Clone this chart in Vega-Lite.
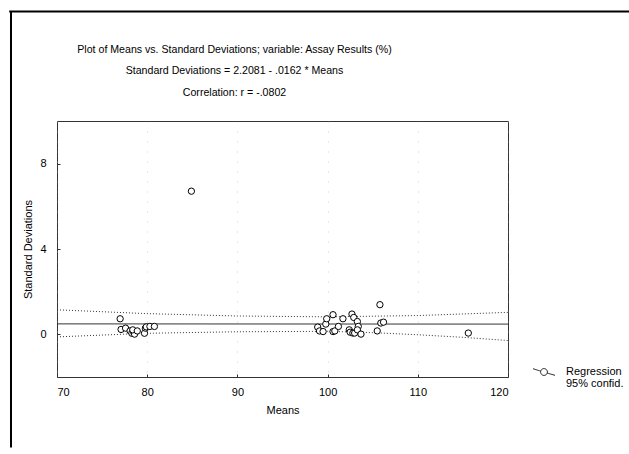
{
  "$schema": "https://vega.github.io/schema/vega-lite/v6.json",
  "width": 451,
  "height": 256,
  "autosize": {"type": "none"},
  "padding": {"left": 57, "top": 121, "right": 121, "bottom": 77},
  "background": "white",
  "config": {
    "font": "Liberation Sans",
    "view": {"stroke": "#333", "strokeWidth": 1},
    "axis": {
      "labelFont": "Liberation Sans",
      "titleFont": "Liberation Sans",
      "labelFontSize": 11,
      "titleFontSize": 11,
      "titleFontWeight": "normal",
      "labelColor": "black",
      "titleColor": "black",
      "domain": false,
      "tickColor": "#333",
      "tickSize": -3
    },
    "legend": {"labelFont": "Liberation Sans"}
  },
  "title": {
    "text": [
      "Plot of Means vs. Standard Deviations; variable: Assay Results (%)",
      "Standard Deviations = 2.2081 - .0162 * Means",
      "Correlation: r = -.0802"
    ],
    "font": "Liberation Sans",
    "fontSize": 10.6,
    "fontWeight": "normal",
    "color": "black",
    "lineHeight": 21.5,
    "anchor": "middle",
    "frame": "group",
    "dx": -48,
    "offset": -88
  },
  "datasets": {
    "points": [
      {"mean": 77.0, "sd": 0.73}, {"mean": 77.1, "sd": 0.23}, {"mean": 77.6, "sd": 0.29},
      {"mean": 78.1, "sd": 0.16}, {"mean": 78.3, "sd": 0.05}, {"mean": 78.5, "sd": 0.1},
      {"mean": 78.6, "sd": 0.01}, {"mean": 78.4, "sd": 0.21}, {"mean": 78.9, "sd": 0.16},
      {"mean": 79.7, "sd": 0.05}, {"mean": 79.8, "sd": 0.29}, {"mean": 79.9, "sd": 0.35},
      {"mean": 80.3, "sd": 0.37}, {"mean": 80.8, "sd": 0.37},
      {"mean": 84.9, "sd": 6.71},
      {"mean": 98.9, "sd": 0.34}, {"mean": 99.1, "sd": 0.16}, {"mean": 99.5, "sd": 0.13},
      {"mean": 99.8, "sd": 0.48}, {"mean": 99.9, "sd": 0.73}, {"mean": 100.6, "sd": 0.92},
      {"mean": 100.6, "sd": 0.13}, {"mean": 100.8, "sd": 0.16}, {"mean": 101.2, "sd": 0.37},
      {"mean": 101.7, "sd": 0.73}, {"mean": 102.4, "sd": 0.21}, {"mean": 102.5, "sd": 0.1},
      {"mean": 102.7, "sd": 0.95}, {"mean": 102.9, "sd": 0.79}, {"mean": 102.8, "sd": 0.06},
      {"mean": 103.0, "sd": 0.06}, {"mean": 103.3, "sd": 0.6}, {"mean": 103.4, "sd": 0.37},
      {"mean": 103.3, "sd": 0.21}, {"mean": 103.7, "sd": 0.01}, {"mean": 105.5, "sd": 0.16},
      {"mean": 105.8, "sd": 1.39}, {"mean": 105.9, "sd": 0.53}, {"mean": 106.2, "sd": 0.57},
      {"mean": 115.6, "sd": 0.06}
    ],
    "lines": [
      {"series": "Regression", "part": "fit", "mean": 70, "sd": 0.49},
      {"series": "Regression", "part": "fit", "mean": 120, "sd": 0.48},
      {"series": "95% confid.", "part": "upper", "mean": 70, "sd": 1.15},
      {"series": "95% confid.", "part": "upper", "mean": 80, "sd": 0.97},
      {"series": "95% confid.", "part": "upper", "mean": 90, "sd": 0.86},
      {"series": "95% confid.", "part": "upper", "mean": 100, "sd": 0.82},
      {"series": "95% confid.", "part": "upper", "mean": 110, "sd": 0.88},
      {"series": "95% confid.", "part": "upper", "mean": 120, "sd": 1.03},
      {"series": "95% confid.", "part": "lower", "mean": 70, "sd": -0.12},
      {"series": "95% confid.", "part": "lower", "mean": 80, "sd": 0.05},
      {"series": "95% confid.", "part": "lower", "mean": 90, "sd": 0.12},
      {"series": "95% confid.", "part": "lower", "mean": 100, "sd": 0.14},
      {"series": "95% confid.", "part": "lower", "mean": 105, "sd": 0.08},
      {"series": "95% confid.", "part": "lower", "mean": 110, "sd": -0.02},
      {"series": "95% confid.", "part": "lower", "mean": 115, "sd": -0.14},
      {"series": "95% confid.", "part": "lower", "mean": 120, "sd": -0.29}
    ],
    "frame": [{"x": 64.9, "x2": 64.9, "y": -5.3, "y2": 15.13}, {"x": 64.7, "x2": 134, "y": 15.13, "y2": 15.13}]
  },
  "layer": [
    {
      "data": {"name": "frame"},
      "mark": {"type": "rule", "color": "black", "strokeWidth": 2, "clip": false},
      "encoding": {
        "x": {"field": "x", "type": "quantitative"},
        "x2": {"field": "x2"},
        "y": {"field": "y", "type": "quantitative"},
        "y2": {"field": "y2"}
      }
    },
    {
      "data": {"name": "lines"},
      "mark": {"type": "line", "color": "#333", "strokeWidth": 1},
      "encoding": {
        "x": {
          "field": "mean", "type": "quantitative", "title": "Means",
          "scale": {"domain": [70, 120], "nice": false, "zero": false},
          "axis": {
            "values": [70, 80, 90, 100, 110, 120],
            "grid": true, "gridColor": "#aaa", "gridDash": [1, 9], "gridOpacity": 0.5,
            "labelPadding": 12, "titlePadding": 7
          }
        },
        "y": {
          "field": "sd", "type": "quantitative", "title": "Standard Deviations",
          "scale": {"domain": [-2, 10], "nice": false, "zero": false},
          "axis": {"values": [0, 4, 8], "grid": false, "labelPadding": 14, "titlePadding": 6}
        },
        "detail": {"field": "part"},
        "strokeDash": {
          "field": "series", "type": "nominal",
          "scale": {"domain": ["Regression", "95% confid."], "range": [[1, 0], [1, 2]]},
          "legend": {
            "title": null,
            "orient": "none",
            "legendX": 481,
            "legendY": 245,
            "padding": 0,
            "rowPadding": 0,
            "labelFontSize": 11,
            "labelColor": "black",
            "labelOffset": 16,
            "symbolType": "M-2,-0.6L-0.6,-0.15M0.6,0.2L2,0.6M0.62,0A0.62,0.62 0 1,1 -0.62,0A0.62,0.62 0 1,1 0.62,0",
            "symbolSize": 121,
            "symbolStrokeColor": "#222",
            "symbolStrokeWidth": 1,
            "symbolFillColor": "white",
            "symbolDash": [1, 0],
            "symbolOpacity": 1,
            "encode": {
              "symbols": {"update": {"opacity": {"signal": "datum.value === 'Regression' ? 1 : 0"}, "strokeDash": {"value": [1, 0]}}}
            }
          }
        }
      }
    },
    {
      "data": {"name": "points"},
      "mark": {"type": "point", "shape": "circle", "filled": false, "fill": "white", "fillOpacity": 1, "stroke": "black", "strokeWidth": 1, "size": 40, "opacity": 1},
      "encoding": {
        "x": {"field": "mean", "type": "quantitative"},
        "y": {"field": "sd", "type": "quantitative"}
      }
    }
  ]
}
